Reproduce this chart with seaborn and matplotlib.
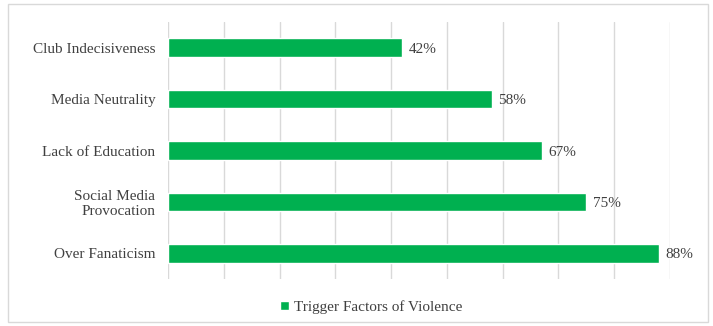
import numpy as np
import pandas as pd
import matplotlib
matplotlib.use("Agg")
import matplotlib.pyplot as plt
import seaborn as sns
from matplotlib.patches import Rectangle
from matplotlib.ticker import MultipleLocator

factors = ["Club Indecisiveness", "Media Neutrality", "Lack of Education",
           "Social Media\nProvocation", "Over Fanaticism"]
shares = [0.42, 0.58, 0.67, 0.75, 0.88]
series = "Trigger Factors of Violence"

df = pd.DataFrame({"factor": factors, "share": shares, "series": series})

sns.set_theme(style="white")
plt.rcParams["font.family"] = ["Liberation Serif", "DejaVu Serif"]
text_col = "#404040"

fig = plt.figure(figsize=(7.13, 3.26), dpi=100)
ax = fig.add_axes([168 / 713, 1 - 279 / 326, (670 - 168) / 713, (279 - 22) / 326])

sns.barplot(data=df, y="factor", x="share", hue="series", orient="h",
            palette=["#00B050"], saturation=1, width=0.36, ax=ax, legend=True)

ax.set_xlim(0, 0.9)
ax.set_ylim(4.5, -0.5)
ax.xaxis.set_major_locator(MultipleLocator(0.1))
ax.grid(axis="x", color="#d9d9d9", lw=1)
ax.set_axisbelow(True)
ax.tick_params(axis="x", labelbottom=False, length=0)
ax.tick_params(axis="y", length=0, labelsize=11, labelcolor=text_col, pad=9)
for s in ax.spines.values():
    s.set_visible(False)
ax.set_xlabel("")
ax.set_ylabel("")

for i, v in enumerate(shares):
    ax.text(v + 0.012, i + 0.03, f"{v:.0%}", va="center", ha="left",
            fontsize=11, color=text_col)

ax.legend(loc="center", bbox_to_anchor=(371 / 713, 1 - 307 / 326),
          bbox_transform=fig.transFigure, frameon=False, fontsize=11,
          handlelength=0.6, handleheight=0.6, handletextpad=0.3,
          labelcolor=text_col)

fig.patches.append(Rectangle((8 / 713, 4 / 326), 700 / 713, 318 / 326,
                             transform=fig.transFigure, fill=False,
                             edgecolor="#d9d9d9", lw=1))

fig.savefig("out.png", dpi=100)
